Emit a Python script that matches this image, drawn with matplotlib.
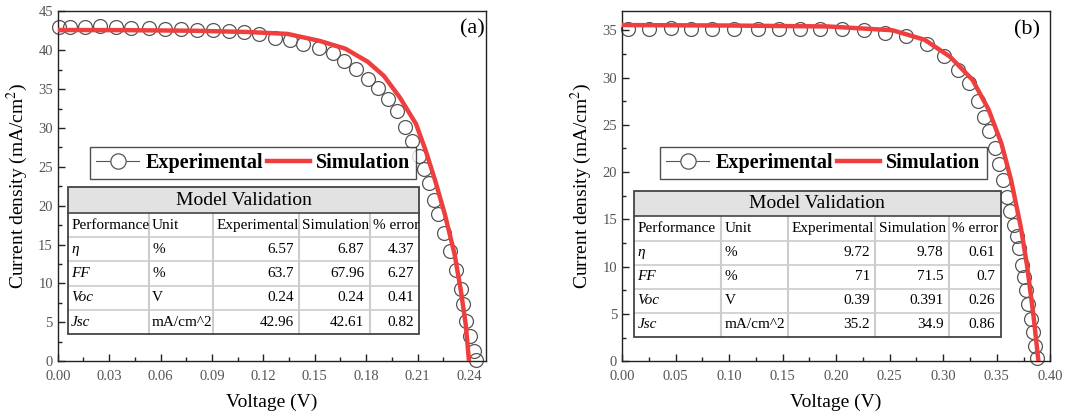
import matplotlib
matplotlib.use("Agg")
import matplotlib.pyplot as plt
from matplotlib.lines import Line2D
from matplotlib.patches import Rectangle
from matplotlib.ticker import MultipleLocator

plt.rcParams["font.family"] = ["Liberation Serif", "DejaVu Serif"]
plt.rcParams["mathtext.fontset"] = "stix"

# ---- panel (a) data ----
va_exp = [0.0006, 0.0072, 0.016, 0.0244, 0.0338, 0.0429, 0.0535, 0.0628, 0.0722, 0.0814,
          0.0907, 0.0997, 0.1089, 0.1177, 0.127, 0.1356, 0.1434, 0.1524, 0.1604, 0.1672,
          0.1742, 0.1813, 0.1871, 0.1928, 0.1977, 0.2025, 0.207, 0.2107, 0.2139, 0.2168,
          0.2195, 0.2221, 0.2254, 0.2291, 0.2326, 0.2351, 0.2367, 0.2384, 0.2408, 0.2429,
          0.2439]
ja_exp = [42.98, 42.98, 42.98, 43.07, 42.98, 42.9, 42.86, 42.77, 42.73, 42.56,
          42.56, 42.47, 42.3, 42.04, 41.61, 41.27, 40.8, 40.28, 39.6, 38.61,
          37.58, 36.29, 35.09, 33.72, 32.17, 30.07, 28.31, 26.42, 24.71, 22.87,
          20.76, 18.92, 16.52, 14.2, 11.75, 9.35, 7.38, 5.23, 3.22, 1.29,
          0.21]
va_sim = [0.0, 0.04, 0.08, 0.11, 0.134, 0.1528, 0.1678, 0.181, 0.1903, 0.1997,
          0.2091, 0.2147, 0.2203, 0.2259, 0.2316, 0.2353, 0.2381, 0.2400]
ja_sim = [42.6, 42.58, 42.5, 42.35, 42.1, 41.2, 40.2, 38.5, 36.7, 33.9,
          30.5, 27.1, 23.2, 18.9, 13.75, 9.0, 4.7, 0.0]

# ---- panel (b) data ----
vb_exp = [0.0056, 0.0256, 0.0458, 0.0648, 0.0842, 0.1047, 0.1266, 0.1468, 0.1661, 0.1852,
          0.2051, 0.2257, 0.2456, 0.265, 0.2846, 0.3011, 0.3136, 0.3236, 0.3323, 0.3385,
          0.3429, 0.3479, 0.3522, 0.356, 0.36, 0.3628, 0.3663, 0.3691, 0.371, 0.3734,
          0.375, 0.3772, 0.3791, 0.3819, 0.3834, 0.3859, 0.3878]
jb_exp = [35.18, 35.18, 35.25, 35.18, 35.18, 35.18, 35.18, 35.18, 35.18, 35.18,
          35.11, 35.0, 34.76, 34.37, 33.52, 32.25, 30.84, 29.43, 27.52, 25.83,
          24.31, 22.55, 20.82, 19.12, 17.36, 15.84, 14.43, 13.27, 11.93, 10.2,
          8.89, 7.48, 6.0, 4.48, 3.07, 1.66, 0.32]
vb_sim = [0.0, 0.10, 0.1925, 0.2525, 0.2825, 0.3064, 0.3274, 0.3424, 0.3544, 0.3634,
          0.3724, 0.3784, 0.3844, 0.3889]
jb_sim = [35.55, 35.5, 35.4, 35.0, 34.0, 32.2, 29.75, 26.6, 23.0, 19.15,
          14.2, 10.0, 4.7, 0.0]

# ---- table data ----
table_cols = ["Performance", "Unit", "Experimental", "Simulation", "% error"]
params = ["η", "FF", "Voc", "Jsc"]
units = ["%", "%", "V", "mA/cm^2"]
a_exp_vals = [6.57, 63.7, 0.24, 42.96]
a_sim_vals = [6.87, 67.96, 0.24, 42.61]
a_err_vals = [4.37, 6.27, 0.41, 0.82]
b_exp_vals = [9.72, 71, 0.39, 35.2]
b_sim_vals = [9.78, 71.5, 0.391, 34.9]
b_err_vals = [0.61, 0.7, 0.26, 0.86]

RED = "#ee3e3e"
GREY = "#555555"


def draw_table(ax, box, col_edges, exp_vals, sim_vals, err_vals):
    left, bottom, right, top = box
    w = right - left
    h = top - bottom
    title_h = h * 26 / 149
    row_h = (h - title_h) / 5
    tr = ax.transAxes
    ax.add_patch(Rectangle((left, bottom), w, h, transform=tr, fc="white", ec="none", zorder=5))
    ax.add_patch(Rectangle((left, top - title_h), w, title_h, transform=tr,
                           fc="#e2e2e2", ec="none", zorder=5))
    ax.text((left + right) / 2, top - title_h / 2, "Model Validation", transform=tr,
            ha="center", va="center", fontsize=14, zorder=9)
    xs = [left + f * w for f in col_edges]
    y0 = top - title_h
    for x in xs[1:-1]:
        ax.plot([x, x], [bottom, y0], transform=tr, color="#cccccc", lw=1.5, zorder=6)
    for i in range(1, 5):
        y = y0 - i * row_h
        ax.plot([left, right], [y, y], transform=tr, color="#cccccc", lw=1.2, zorder=6)
    ax.plot([left, right], [y0, y0], transform=tr, color="#444444", lw=1.2, zorder=7)
    ax.add_patch(Rectangle((left, bottom), w, h, transform=tr, fc="none",
                           ec="#444444", lw=1.3, zorder=8))

    rows = [table_cols]
    for k in range(4):
        rows.append([params[k], units[k], f"{exp_vals[k]:g}", f"{sim_vals[k]:g}",
                     f"{err_vals[k]:g}"])
    pad = 0.008
    for i, row in enumerate(rows):
        yc = y0 - (i + 0.5) * row_h
        for j, cell in enumerate(row):
            style = "italic" if (i > 0 and j == 0) else "normal"
            if i == 0 or j < 2:
                ax.text(xs[j] + pad, yc, cell, transform=tr, ha="left", va="center",
                        fontsize=11, fontstyle=style, zorder=9)
            else:
                ax.text(xs[j + 1] - pad * 1.5, yc, cell, transform=tr, ha="right",
                        va="center", fontsize=11, zorder=9)


def style_axes(ax, xmax, xmaj, ymax, ymaj):
    ax.set_xlim(0, xmax)
    ax.set_ylim(0, ymax)
    ax.xaxis.set_major_locator(MultipleLocator(xmaj))
    ax.xaxis.set_minor_locator(MultipleLocator(xmaj / 2))
    ax.yaxis.set_major_locator(MultipleLocator(ymaj))
    ax.yaxis.set_minor_locator(MultipleLocator(ymaj / 2))
    ax.tick_params(which="both", direction="in", top=False, right=False,
                   labelsize=10.5, labelcolor="#555555", color="#222222", width=1)
    ax.tick_params(which="major", length=5)
    ax.tick_params(which="minor", length=3)
    ax.tick_params(axis="x", pad=6)
    for s in ax.spines.values():
        s.set_linewidth(1.0)
        s.set_color("#222222")
    ax.set_xlabel("Voltage (V)", fontsize=14, labelpad=8)
    ax.set_ylabel("Current density (mA/cm$^2$)", fontsize=14, labelpad=6)


def legend_handles():
    h_exp = Line2D([], [], color=GREY, lw=0.8, marker="o", ms=11, mfc="white",
                   mec=GREY, mew=0.9)
    h_sim = Line2D([], [], color=RED, lw=3.2)
    return [h_exp, h_sim]


fig = plt.figure(figsize=(10.9, 4.2), dpi=100)
ax_a = fig.add_axes([0.053, 0.140, 0.393, 0.833])
ax_b = fig.add_axes([0.5706, 0.140, 0.393, 0.833])

for ax, vx, jx, vs, js in [(ax_a, va_exp, ja_exp, va_sim, ja_sim),
                           (ax_b, vb_exp, jb_exp, vb_sim, jb_sim)]:
    ax.plot(vx, jx, ls="none", marker="o", ms=10, mfc="none", mec=GREY, mew=0.9,
            zorder=2, clip_on=False)
    ax.plot(vs, js, color=RED, lw=3.2, zorder=3)

style_axes(ax_a, 0.25, 0.03, 45, 5)
style_axes(ax_b, 0.40, 0.05, 37, 5)

for ax, anchor in [(ax_a, (0.0748, 0.613)), (ax_b, (0.0888, 0.613))]:
    leg = ax.legend(legend_handles(), ["Experimental", "Simulation"], loc="upper left",
                    bbox_to_anchor=anchor, ncol=2, frameon=True, fancybox=False,
                    edgecolor="#222222", borderaxespad=0, handlelength=2.15,
                    handletextpad=0.3, columnspacing=0.2, borderpad=0.3,
                    prop={"weight": "bold", "size": 14.5})
    leg.get_frame().set_linewidth(1.0)
    leg.set_zorder(10)

draw_table(ax_a, (0.0234, 0.077, 0.8435, 0.497),
           [0, 0.2303, 0.4144, 0.658, 0.859, 1.0], a_exp_vals, a_sim_vals, a_err_vals)
draw_table(ax_b, (0.028, 0.0694, 0.884, 0.4866),
           [0, 0.2375, 0.4198, 0.658, 0.8585, 1.0], b_exp_vals, b_sim_vals, b_err_vals)

ax_a.text(0.967, 0.949, "(a)", transform=ax_a.transAxes, ha="center", va="center", fontsize=16)
ax_b.text(0.946, 0.948, "(b)", transform=ax_b.transAxes, ha="center", va="center", fontsize=16)

fig.savefig("out.png", dpi=100)
